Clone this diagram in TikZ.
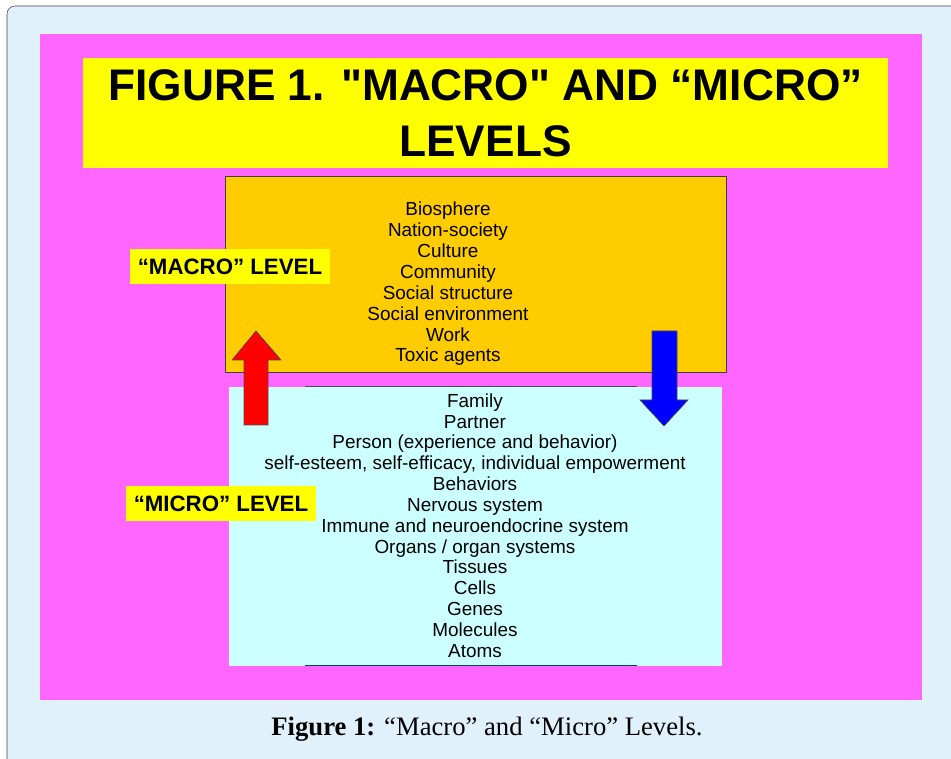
\documentclass[tikz,border=0pt]{standalone}
\usepackage{fontspec}
\setmainfont{Liberation Sans}
\newfontfamily\titlefont{Liberation Sans}[Ligatures=TeXOff]
\newfontfamily\capfont{Liberation Serif}
\usepackage{xcolor}
\definecolor{framebg}{HTML}{E1F1FB}
\definecolor{pinkbg}{HTML}{FF66FF}
\definecolor{titleyellow}{HTML}{FFFF00}
\definecolor{macroorange}{HTML}{FFCC00}
\definecolor{microcyan}{HTML}{CCFFFF}
\tikzset{
  levellabel/.style={fill=titleyellow, font=\bfseries\fontsize{16.7}{18}\selectfont, minimum height=35*0.75pt, inner xsep=6pt},
  levellist/.style={align=center, font=\fontsize{14.2}{15.64}\selectfont},
  arrowshape/.style={draw=black!70, line width=0.5pt, line join=miter}
}

\begin{document}
\begin{tikzpicture}[x=0.75pt,y=-0.75pt]
\useasboundingbox (0,0) rectangle (951,759);
\draw[fill=framebg, draw=black!75, rounded corners=6pt] (7,6) rectangle (975,790);
\fill[pinkbg] (40,34) rectangle (922,700);
\node[fill=titleyellow, minimum width=805*0.75pt, minimum height=110*0.75pt, align=center,
  font=\titlefont\bfseries\fontsize{33.2}{42}\selectfont] (title) at (485.5,113) {FIGURE 1. "MACRO" AND “MICRO”\\LEVELS};
\node[draw=black!75, fill=macroorange, minimum width=501*0.75pt, minimum height=196*0.75pt] (macrobox) at (475.5,274) {};
\node[fill=microcyan, minimum width=493*0.75pt, minimum height=279*0.75pt] (microbox) at (475.5,526.5) {};
\draw[black!70] (305,386) -- (637,386);
\draw[teal!60!black] (305,665) -- (637,665);
\node[levellist] (macrolist) at (448,284) {Biosphere\\Nation-society\\Culture\\Community\\Social structure\\Social environment\\Work\\Toxic agents};
\node[levellist] (microlist) at (475,525.5) {Family\\Partner\\Person (experience and behavior)\\self-esteem, self-efficacy, individual empowerment\\Behaviors\\Nervous system\\Immune and neuroendocrine system\\Organs / organ systems\\Tissues\\Cells\\Genes\\Molecules\\Atoms};
\node[levellabel, minimum width=200*0.75pt] (macrolabel) at (230,266.5) {“MACRO” LEVEL};
\node[levellabel, minimum width=188*0.75pt] (microlabel) at (221,503.5) {“MICRO” LEVEL};
\draw[arrowshape, fill=red] (244,425) -- (268,425) -- (268,360) -- (281,360) -- (256,331) -- (232,360) -- (244,360) -- cycle;
\draw[arrowshape, fill=blue] (652,331) -- (677,331) -- (677,400) -- (688,400) -- (664,426) -- (640,400) -- (652,400) -- cycle;
\node[font=\capfont\fontsize{20}{24}\selectfont] (caption) at (487,729) {\textbf{Figure 1:} “Macro” and “Micro” Levels.};
\end{tikzpicture}
\end{document}
